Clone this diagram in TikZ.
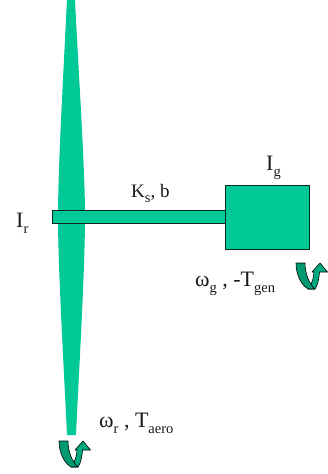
\documentclass[tikz,border=0pt]{standalone}
\usepackage{fontspec}
\setmainfont{Liberation Serif}
\definecolor{tealfill}{HTML}{00C896}
\definecolor{tealdark}{HTML}{009A72}
\definecolor{edge}{HTML}{0A2A22}
\newcommand{\sbs}[1]{\raisebox{-0.28em}{\fontsize{14.5}{16}\selectfont #1}}
\tikzset{
  x=1pt,y=-1pt,
  lab/.style={inner sep=0pt,anchor=base west,font=\fontsize{22}{24}\selectfont,text=black!90},
  labsmall/.style={inner sep=0pt,anchor=base west,font=\fontsize{19}{21}\selectfont,text=black!90},
  part/.style={fill=tealfill,draw=edge,line width=1pt},
  arrowlight/.style={fill=tealfill!85!black,draw=black,line width=0.6pt,line join=round},
  arrowdark/.style={fill=tealdark,draw=black,line width=0.6pt,line join=round}
}
\newcommand{\turnarrow}[2]{%
  \begin{scope}[shift={(#1,#2)}]
    \path[arrowlight] (19,26) .. controls (22,22) and (23,15) .. (23.5,9)
      -- (31.5,9) -- (24,0) -- (16,9) -- (18,9)
      .. controls (18,14) and (16,21) .. (12,26) -- cycle;
    \path[arrowdark] (0,0) -- (9,0) .. controls (9,10) and (13,21) .. (19,26)
      -- (12,26) .. controls (4,21) and (0,10) .. (0,0) -- cycle;
  \end{scope}}
\begin{document}
\begin{tikzpicture}
\useasboundingbox (0,0) rectangle (327,474);
\path[fill=tealfill] (67,0) -- (75,0) .. controls (79,80) and (85,170) .. (85,216)
  .. controls (85,270) and (79,370) .. (76,435) -- (67,435)
  .. controls (64,370) and (58,270) .. (58,216)
  .. controls (58,170) and (63,80) .. (67,0) -- cycle;
\draw[part] (52,210) rectangle (225.5,223.5);
\draw[part] (225.5,185) rectangle (309,249);
\turnarrow{59}{441}
\turnarrow{296}{263}
\node[lab] (ir) at (16,227) {I\sbs{r}};
\node[labsmall] (ks) at (131,197) {K\sbs{s}, b};
\node[lab] (ig) at (266,170) {I\sbs{g}};
\node[lab] (wg) at (195,286) {ω\sbs{g} , -T\sbs{gen}};
\node[lab] (wr) at (99,427) {ω\sbs{r} , T\sbs{aero}};
\end{tikzpicture}
\end{document}
